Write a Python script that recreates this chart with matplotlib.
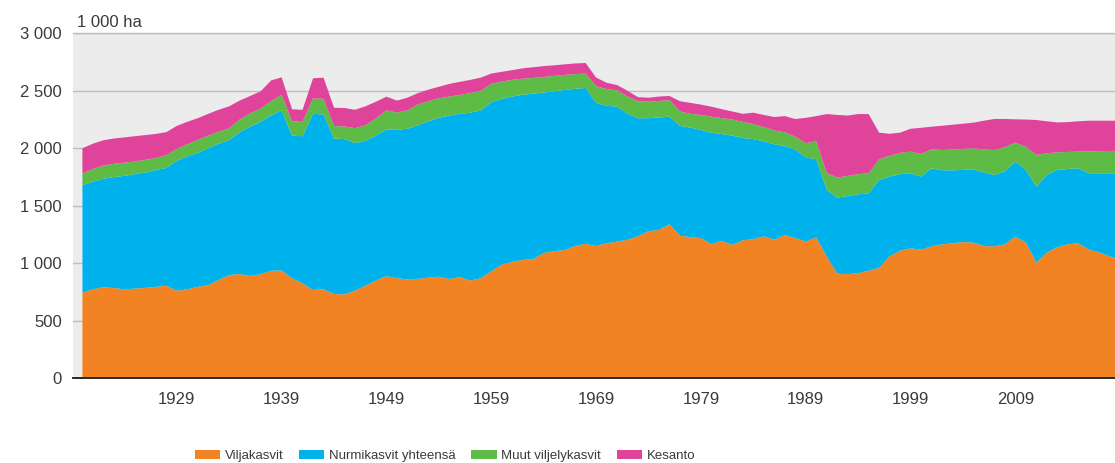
import matplotlib
matplotlib.use("Agg")
import matplotlib.pyplot as plt
from matplotlib.patches import Patch

# Peltoala käyttötarkoituksen mukaan, 1 000 ha
years = list(range(1920, 2020))

viljakasvit = [
    744, 775, 791, 785, 774, 780, 786, 795, 805, 762,
    774, 795, 811, 855, 898, 907, 890, 905, 935, 938,
    869, 826, 768, 774, 733, 730, 762, 805, 850, 888,
    870, 860, 865, 875, 883, 864, 880, 850, 870, 930,
    990, 1012, 1030, 1035, 1090, 1105, 1115, 1150, 1170, 1150,
    1175, 1188, 1205, 1235, 1280, 1290, 1340, 1240, 1228, 1220,
    1165, 1195, 1160, 1200, 1210, 1235, 1205, 1245, 1220, 1190,
    1225, 1060, 910, 905, 915, 935, 960, 1060, 1110, 1130,
    1118, 1148, 1165, 1174, 1185, 1180, 1150, 1148, 1165, 1232,
    1180, 1006, 1095, 1140, 1165, 1174, 1120, 1095, 1060, 1030,
]

nurmikasvit = [
    934, 935, 944, 965, 986, 995, 1004, 1015, 1025, 1128,
    1156, 1165, 1189, 1185, 1174, 1233, 1298, 1325, 1350, 1392,
    1241, 1279, 1532, 1521, 1352, 1350, 1283, 1260, 1260, 1277,
    1290, 1310, 1335, 1360, 1382, 1421, 1420, 1460, 1460, 1470,
    1440, 1438, 1435, 1440, 1395, 1390, 1392, 1367, 1355, 1245,
    1195, 1174, 1095, 1026, 982, 978, 935, 955, 952, 940,
    970, 929, 950, 890, 870, 825, 830, 775, 770, 730,
    680, 580, 660, 680, 685, 674, 764, 695, 665, 653,
    636, 678, 645, 634, 627, 635, 640, 620, 635, 652,
    632, 660, 673, 672, 655, 652, 663, 688, 723, 753,
]

muut_viljelykasvit = [
    102, 110, 115, 115, 115, 110, 110, 105, 110, 105,
    105, 112, 110, 105, 102, 110, 116, 115, 125, 135,
    125, 125, 135, 135, 109, 110, 130, 135, 150, 165,
    150, 160, 180, 175, 170, 165, 165, 170, 170, 160,
    150, 145, 140, 137, 135, 135, 131, 128, 125, 145,
    145, 143, 150, 149, 143, 144, 145, 125, 120, 130,
    140, 138, 140, 140, 130, 125, 120, 120, 110, 125,
    155, 145, 175, 175, 175, 174, 180, 180, 185, 188,
    197, 165, 175, 182, 183, 185, 200, 217, 210, 165,
    202, 276, 189, 153, 148, 145, 190, 192, 194, 195,
]

kesanto = [
    220, 220, 220, 220, 220, 220, 215, 210, 200, 200,
    195, 190, 190, 190, 191, 165, 151, 150, 180, 152,
    104, 105, 174, 184, 159, 160, 160, 165, 145, 119,
    105, 110, 100, 100, 100, 110, 113, 115, 115, 90,
    85, 85, 90, 93, 95, 92, 92, 93, 92, 75,
    55, 45, 50, 35, 35, 38, 35, 90, 95, 90,
    87, 78, 70, 70, 100, 105, 117, 140, 155, 220,
    220, 513, 545, 525, 523, 515, 232, 191, 176, 199,
    227, 197, 211, 215, 219, 223, 250, 270, 245, 203,
    236, 304, 278, 260, 260, 264, 267, 265, 263, 262,
]

series_labels = ["Viljakasvit", "Nurmikasvit yhteensä", "Muut viljelykasvit", "Kesanto"]
series_colors = ["#F28322", "#00B2EC", "#5DBB46", "#E0449A"]

y_ticks = [0, 500, 1000, 1500, 2000, 2500, 3000]
y_tick_labels = ["0", "500", "1 000", "1 500", "2 000", "2 500", "3 000"]
x_ticks = [1929, 1939, 1949, 1959, 1969, 1979, 1989, 1999, 2009]

plt.rcParams['font.family'] = ['Liberation Sans', 'DejaVu Sans']
text_color = "#3A3A3A"

W, H = 1115, 463
fig = plt.figure(figsize=(W / 100, H / 100), dpi=100)
ax = fig.add_axes([73 / W, 1 - 378.3 / H, 1 - 73 / W, 345 / H])
ax.set_facecolor("#ECECEC")

ax.stackplot(years, viljakasvit, nurmikasvit, muut_viljelykasvit, kesanto,
             colors=series_colors, labels=series_labels, linewidth=0)

ax.set_xlim(1919.1, 2018.5)
ax.set_ylim(0, 3000)
ax.set_yticks(y_ticks)
ax.set_yticklabels(y_tick_labels)
ax.set_xticks(x_ticks)
ax.set_xticklabels([str(t) for t in x_ticks])

ax.yaxis.grid(True, color="#BDBDBD", linewidth=1)
ax.set_axisbelow(True)

for side in ["left", "right"]:
    ax.spines[side].set_visible(False)
ax.spines["top"].set_color("#BDBDBD")
ax.spines["top"].set_linewidth(1)
ax.spines["bottom"].set_color("#2A2A2A")
ax.spines["bottom"].set_linewidth(1.4)
ax.spines["bottom"].set_zorder(5)

ax.tick_params(axis="y", length=0, pad=8, labelsize=12, labelcolor=text_color)
ax.tick_params(axis="x", length=0, pad=10, labelsize=12, labelcolor=text_color)

fig.text(77 / W, 1 - 27 / H, "1 000 ha", fontsize=12, color=text_color, va="baseline")

handles = [Patch(facecolor=c, edgecolor="none") for c in series_colors]
fig.legend(handles, series_labels, loc="center", bbox_to_anchor=(445 / W, 1 - 456 / H),
           ncol=4, frameon=False, handlelength=1.9, handleheight=0.75,
           handletextpad=0.35, columnspacing=1.2, labelcolor=text_color,
           prop={"size": 9.5})

fig.savefig("out.png", dpi=100, facecolor="white")
plt.close(fig)
